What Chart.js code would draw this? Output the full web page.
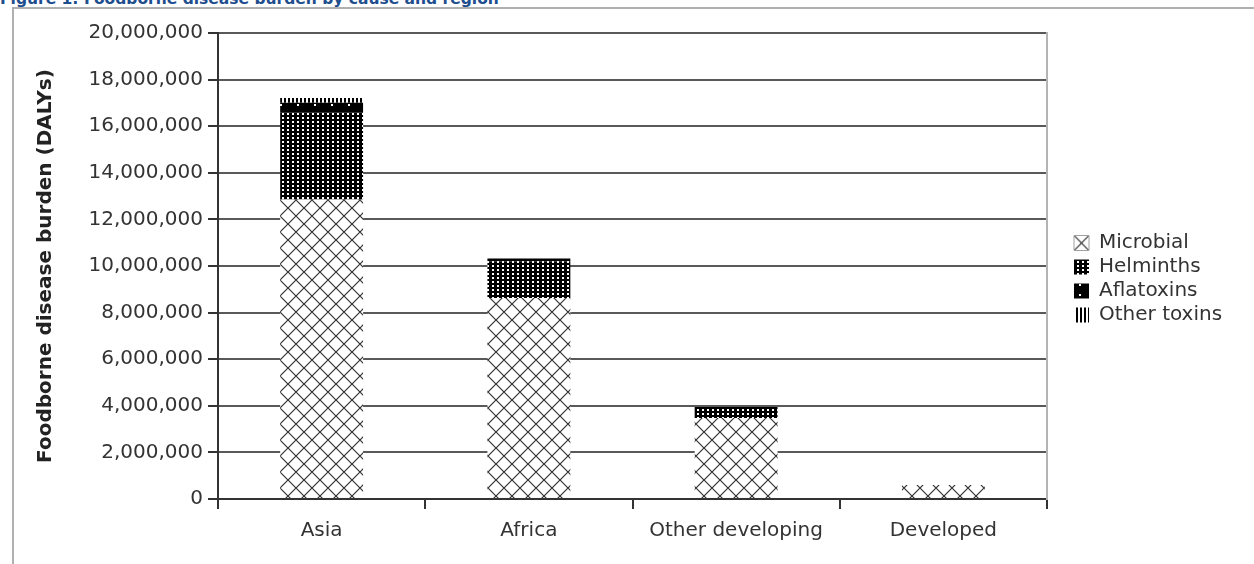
<!DOCTYPE html>
<html>
<head>
<meta charset="utf-8">
<script src="https://cdn.jsdelivr.net/npm/chart.js@4/dist/chart.umd.min.js"></script>
<style>
  html, body { margin: 0; padding: 0; background: #fff; }
  #page { position: relative; width: 1254px; height: 564px; overflow: hidden; }
  #caption {
    position: absolute; left: 0; top: -8px; white-space: nowrap;
    font: bold 15.5px "DejaVu Sans", sans-serif; line-height: 15px; color: #1f4e8f;
  }
  #frame {
    position: absolute; left: 12px; top: 7px; width: 1260px; height: 600px;
    border-left: 2px solid #b0b0b0; border-top: 2px solid #b0b0b0;
  }
  #chart { position: absolute; left: 0; top: 0; }
</style>
</head>
<body>
<div id="page">
  <div id="frame"></div>
  <div id="caption">Figure 1: Foodborne disease burden by cause and region</div>
  <canvas id="chart" width="1254" height="564"></canvas>
</div>
<script>
// Regions on the category axis
const regions = ['Asia', 'Africa', 'Other developing', 'Developed'];

// Burden by cause (DALYs), one value per region
const microbial   = [12850000, 8630000, 3480000, 600000];
const helminths   = [3730000, 1570000, 470000, 0];
const aflatoxins  = [430000, 120000, 0, 0];
const otherToxins = [200000, 0, 0, 0];

// Value axis range
const yMax = 20000000;
const yStep = 2000000;

// ---- fill patterns -------------------------------------------------------
function tile(w, h, paint) {
  const c = document.createElement('canvas');
  c.width = w; c.height = h;
  const g = c.getContext('2d');
  paint(g, w, h);
  return g.createPattern(c, 'repeat');
}

function paintCross(g, w, h) {
  g.fillStyle = '#ffffff';
  g.fillRect(0, 0, w, h);
  g.strokeStyle = '#333333';
  g.lineWidth = 1.2;
  g.beginPath();
  for (const o of [-w, 0, w]) {
    g.moveTo(o, 0); g.lineTo(o + w, h);
    g.moveTo(o + w, 0); g.lineTo(o, h);
  }
  g.stroke();
}

// diagonal cross-hatch on white
const crossHatch = tile(16, 16, paintCross);

// dense dark field with small white dots
const darkDots = tile(5, 4, (g, w, h) => {
  g.fillStyle = '#000000';
  g.fillRect(0, 0, w, h);
  g.fillStyle = '#ffffff';
  g.fillRect(2, 1, 2, 2);
});

// solid black with sparse white dots
const sparseDots = tile(17, 10, (g, w, h) => {
  g.fillStyle = '#000000';
  g.fillRect(0, 0, w, h);
  g.fillStyle = '#ffffff';
  g.fillRect(8, 4, 2, 2);
});

// vertical stripes
const vStripes = tile(4, 4, (g, w, h) => {
  g.fillStyle = '#ffffff';
  g.fillRect(0, 0, w, h);
  g.fillStyle = '#000000';
  g.fillRect(0, 0, 2, h);
});

// ---- legend placement beside the plot ------------------------------------
const LEGEND_LEFT = 1070;
const LEGEND_TOP = 229;
const LEGEND_PAD = 4;
const LEGEND_FONT = 20;
const LEGEND_BOX = 15;

// single "X" swatch for the hatched series, aligned to its legend box
const crossSwatch = (() => {
  const p = tile(LEGEND_BOX, LEGEND_BOX, paintCross);
  const bx = LEGEND_LEFT + LEGEND_PAD;
  const by = LEGEND_TOP + LEGEND_PAD + (LEGEND_FONT - LEGEND_BOX) / 2;
  if (p.setTransform) p.setTransform(new DOMMatrix().translate(bx, by));
  return p;
})();

const legendPlacement = {
  id: 'legendPlacement',
  afterLayout(chart) {
    const lg = chart.legend;
    if (!lg) return;
    const w = lg.width, h = lg.height;
    lg.left = LEGEND_LEFT; lg.right = lg.left + w;
    lg.top = LEGEND_TOP; lg.bottom = lg.top + h;
  }
};

const textColor = '#333333';
const axisFont = { family: '"DejaVu Sans", sans-serif', size: 20 };

new Chart(document.getElementById('chart'), {
  type: 'bar',
  data: {
    labels: regions,
    datasets: [
      { label: 'Microbial',    data: microbial,   backgroundColor: crossHatch },
      { label: 'Helminths',    data: helminths,   backgroundColor: darkDots },
      { label: 'Aflatoxins',   data: aflatoxins,  backgroundColor: sparseDots },
      { label: 'Other toxins', data: otherToxins, backgroundColor: vStripes }
    ]
  },
  options: {
    responsive: false,
    animation: false,
    devicePixelRatio: 1,
    layout: { padding: { top: 33, right: 207, bottom: 0, left: 0 } },
    datasets: {
      bar: { categoryPercentage: 1.0, barPercentage: 0.4, borderWidth: 0 }
    },
    plugins: {
      legend: {
        position: 'chartArea',
        align: 'start',
        labels: {
          boxWidth: LEGEND_BOX,
          boxHeight: LEGEND_BOX,
          padding: LEGEND_PAD,
          color: textColor,
          font: { family: '"DejaVu Sans", sans-serif', size: LEGEND_FONT },
          generateLabels(chart) {
            const items = Chart.defaults.plugins.legend.labels.generateLabels(chart);
            items.forEach((it) => {
              if (it.datasetIndex === 0) {
                it.fillStyle = crossSwatch;
                it.strokeStyle = '#a0a0a0';
                it.lineWidth = 1;
              }
            });
            return items;
          }
        }
      },
      tooltip: { enabled: false }
    },
    scales: {
      x: {
        stacked: true,
        grid: {
          display: true, offset: true, drawOnChartArea: false,
          drawTicks: true, tickLength: 10, color: '#333333', lineWidth: 2
        },
        border: { display: true, color: '#333333', width: 2 },
        ticks: { color: textColor, font: { family: '"DejaVu Sans", sans-serif', size: 20 }, padding: 10, maxRotation: 0 },
        afterFit(scale) { scale.height = 65; }
      },
      y: {
        stacked: true,
        min: 0,
        max: yMax,
        ticks: {
          stepSize: yStep,
          color: textColor,
          font: axisFont,
          padding: 5,
          callback: (v) => Number(v).toLocaleString('en-US')
        },
        grid: { color: '#595959', lineWidth: 2, tickLength: 10, tickColor: '#333333' },
        border: { display: true, color: '#333333', width: 2 },
        title: {
          display: true,
          text: 'Foodborne disease burden (DALYs)',
          color: '#222222',
          font: { family: '"DejaVu Sans", sans-serif', size: 20, weight: 'bold' },
          padding: { top: 34, bottom: 0 }
        },
        afterFit(scale) { scale.width = 218; }
      },
      y2: {
        position: 'right',
        min: 0,
        max: yMax,
        ticks: { display: false },
        grid: { drawOnChartArea: false, drawTicks: false },
        border: { display: true, color: '#b4b4b4', width: 2 },
        afterFit(scale) { scale.width = 0; }
      }
    }
  },
  plugins: [legendPlacement]
});
</script>
</body>
</html>
